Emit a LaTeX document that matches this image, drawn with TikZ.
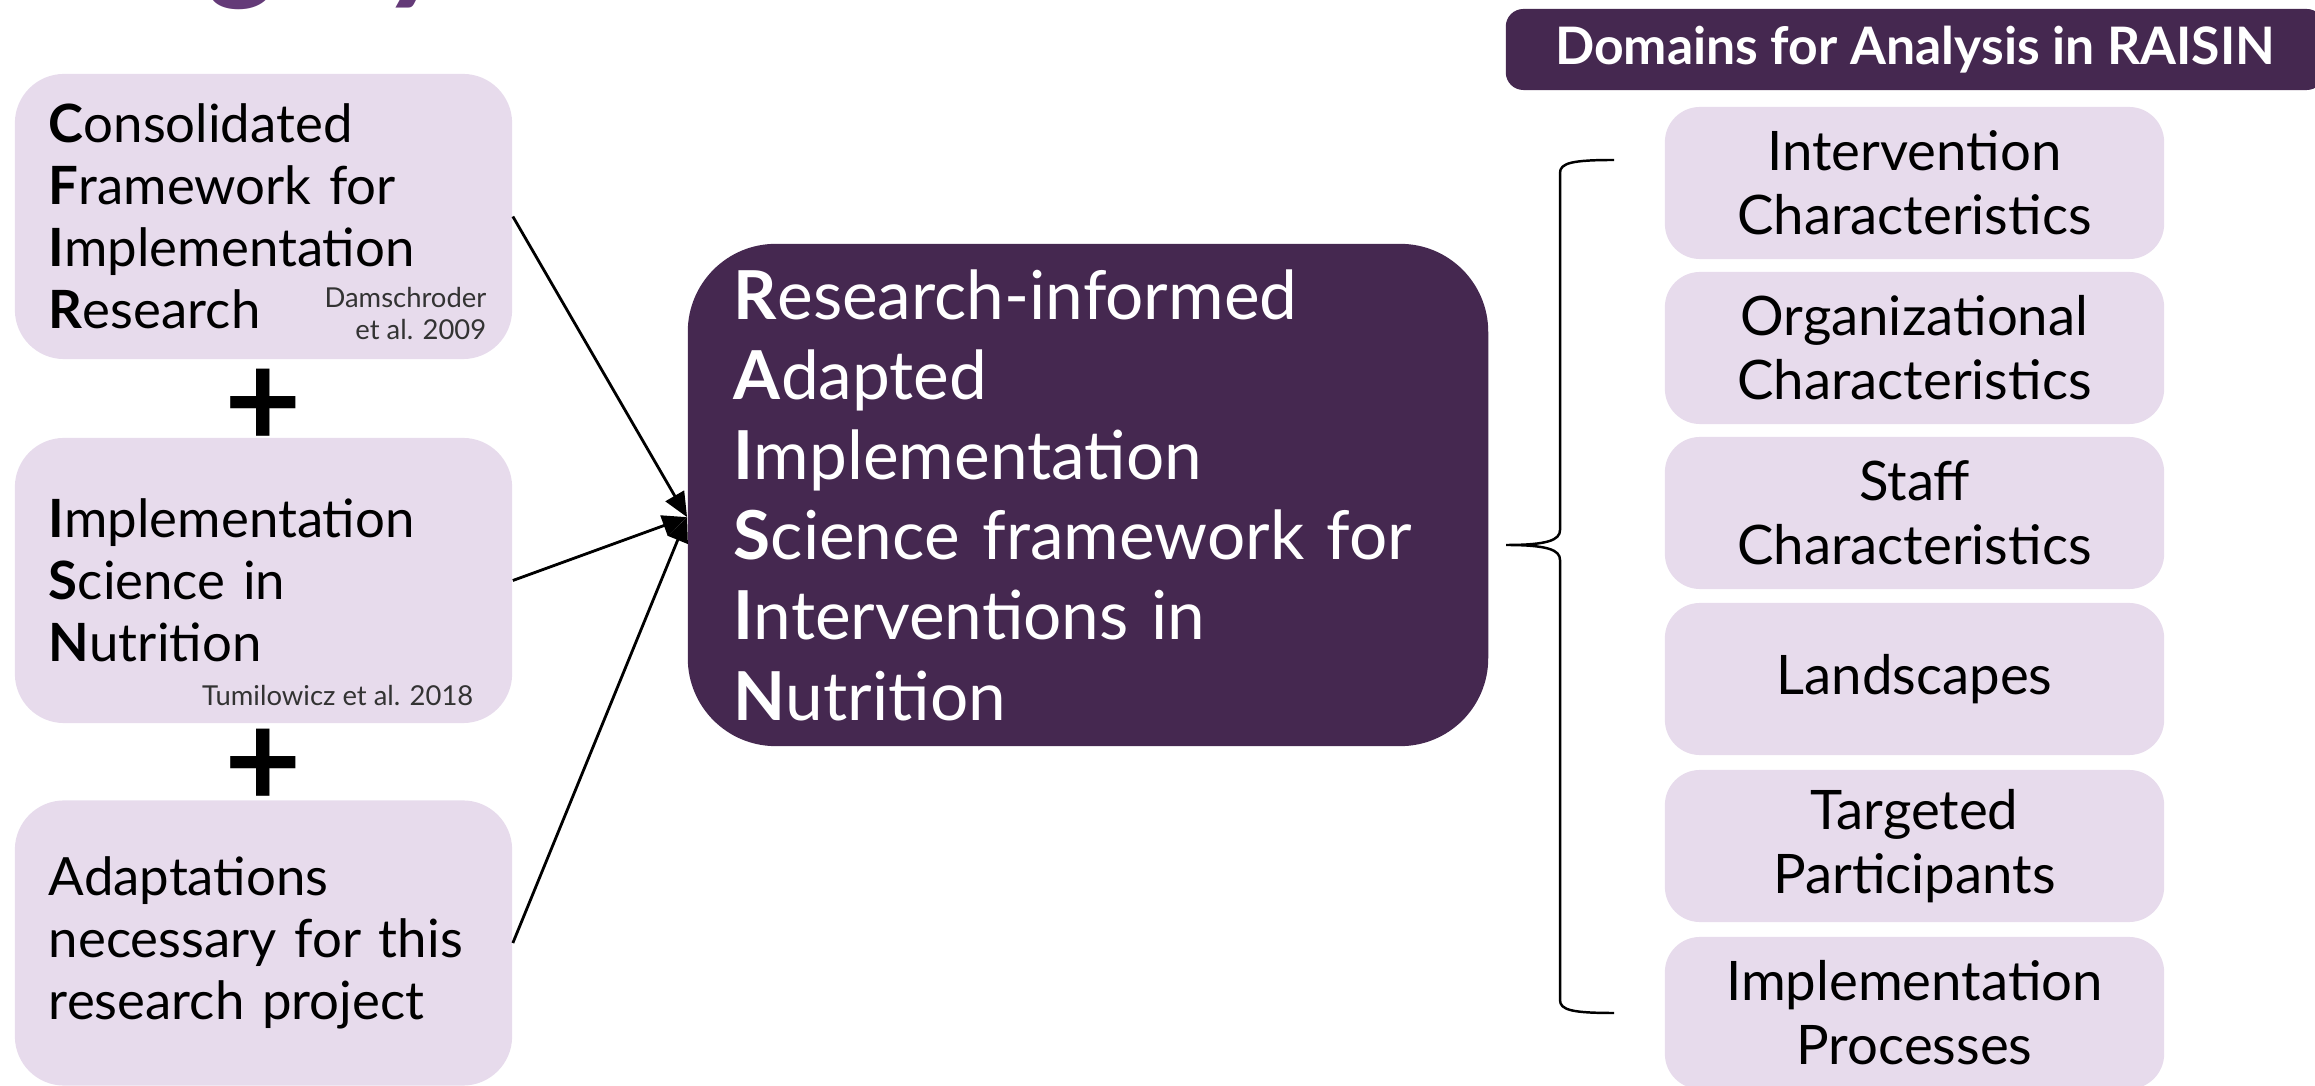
\documentclass[tikz,border=0pt]{standalone}
\usepackage{fontspec}
\setmainfont{Lato}
\usetikzlibrary{arrows.meta}

\definecolor{lilac}{RGB}{231,219,236}
\definecolor{raisin}{RGB}{69,40,80}
\definecolor{titlepurple}{RGB}{100,58,120}

\begin{document}
\begin{tikzpicture}[x=0.01cm,y=-0.01cm,
  srcbox/.style={fill=lilac,rounded corners=14pt,minimum height=2.85cm,
    inner xsep=0.34cm,text width=4.29cm,align=left,
    font=\fontsize{15}{17.6}\selectfont},
  cite/.style={inner sep=0pt,text=black!80,font=\fontsize{7.8}{9.1}\selectfont},
  plus/.style={inner sep=0pt,font=\bfseries\fontsize{38}{38}\selectfont},
  rsbox/.style={fill=raisin,text=white,rounded corners=25pt,minimum height=5.02cm,
    inner xsep=0.46cm,text width=7.08cm,align=left,
    font=\fontsize{19.2}{22.8}\selectfont},
  domhead/.style={fill=raisin,text=white,rounded corners=5pt,minimum width=8.18cm,
    minimum height=0.81cm,font=\bfseries\fontsize{14.7}{16}\selectfont},
  dombox/.style={fill=lilac,rounded corners=10pt,minimum width=4.99cm,
    minimum height=1.52cm,align=center,font=\fontsize{15.5}{18.2}\selectfont},
  titlefrag/.style={inner sep=0pt,anchor=base,text=titlepurple,
    font=\bfseries\itshape\fontsize{40}{40}\selectfont},
  link/.style={-{Triangle[length=7pt,width=6pt]},line width=0.8pt},
  bracket/.style={line width=0.7pt}]

  \useasboundingbox (0,0) rectangle (2315,1086);

  \node[titlefrag] (titleg) at (250,-15) {g};
  \node[titlefrag] (titley) at (424,-15) {y};

  \node[srcbox] (cfir) at (263.5,216.5) {\textbf{C}onsolidated\\\textbf{F}ramework for\\\textbf{I}mplementation\\\textbf{R}esearch};
  \node[cite,anchor=north east,align=right] (cfirref) at (487,287) {Damschroder\\et al. 2009};
  \node[plus] (plusa) at (263,408) {+};

  \node[srcbox] (isn) at (263.5,580.5) {\textbf{I}mplementation\\\textbf{S}cience in\\\textbf{N}utrition};
  \node[cite,anchor=base east] (isnref) at (474,706) {Tumilowicz et al. 2018};
  \node[plus] (plusb) at (263,768) {+};

  \node[srcbox] (adapt) at (263.5,943) {Adaptations\\necessary for this\\research project};

  \node[rsbox] (raisin) at (1088,495) {\textbf{R}esearch-informed\\\textbf{A}dapted\\\textbf{I}mplementation\\\textbf{S}cience framework for\\\textbf{I}nterventions in\\\textbf{N}utrition};
  \coordinate (hub) at ([yshift=-6.3pt]raisin.west);

  \draw[link] (cfir.east) -- (hub);
  \draw[link] (isn.east) -- (hub);
  \draw[link] (adapt.east) -- (hub);

  \node[domhead] (head) at (1915,49.5) {Domains for Analysis in RAISIN};
  \node[dombox] (intchar) at (1914.5,183) {Intervention\\Characteristics};
  \node[dombox] (orgchar) at (1914.5,348) {Organizational\\Characteristics};
  \node[dombox] (staffchar) at (1914.5,513) {Staff\\Characteristics};
  \node[dombox] (landsc) at (1914.5,679) {Landscapes};
  \node[dombox] (targpart) at (1914.5,846) {Targeted\\Participants};
  \node[dombox] (implproc) at (1914.5,1013) {Implementation\\Processes};

  \draw[bracket] (1614,160) .. controls (1572,160) and (1560,163) .. (1560,173)
    -- (1560,530) .. controls (1560,540) and (1548,545) .. (1506,545)
    .. controls (1548,545) and (1560,550) .. (1560,560)
    -- (1560,1000) .. controls (1560,1010) and (1572,1013) .. (1614,1013);
\end{tikzpicture}
\end{document}
